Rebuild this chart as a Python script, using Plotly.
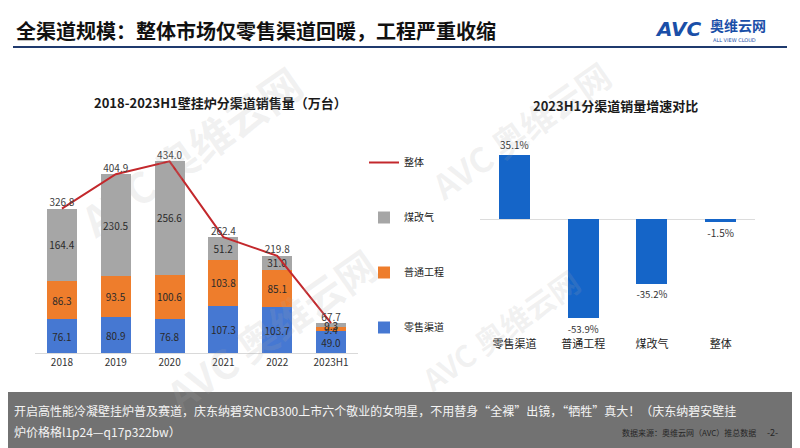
import plotly.graph_objects as go

# ---------------- data ----------------
years = ["2018", "2019", "2020", "2021", "2022", "2023H1"]
retail = [76.1, 80.9, 76.8, 107.3, 103.7, 49.0]       # 零售渠道
engineering = [86.3, 93.5, 100.6, 103.8, 85.1, 9.4]  # 普通工程
coal2gas = [164.4, 230.5, 256.6, 51.2, 31.0, 9.3]    # 煤改气
total = [326.8, 404.9, 434.0, 262.4, 219.8, 67.7]    # 整体

growth_cats = ["零售渠道", "普通工程", "煤改气", "整体"]
growth_vals = [35.1, -53.9, -35.2, -1.5]

FONT = "Noto Sans CJK SC"
W, H = 800, 448
OFF = 8  # page body margin offset

def px_x(p):
    return (p - OFF) / W

def px_y(p):
    return 1 - (p - OFF) / H

C_BLUE = "#4678d2"
C_ORANGE = "#ee7d2c"
C_GRAY = "#a6a6a6"
C_RED = "#c3282c"
C_BAR2 = "#1565c8"

fig = go.Figure()

seg_font = dict(family=FONT, size=10, color="#2a2a2a")
for name, vals, col, rank in [("零售渠道", retail, C_BLUE, 4),
                              ("普通工程", engineering, C_ORANGE, 3),
                              ("煤改气", coal2gas, C_GRAY, 2)]:
    fig.add_trace(go.Bar(
        x=years, y=vals, name=name, marker=dict(color=col, line=dict(width=0)),
        text=[f"{v:.1f}" for v in vals], textposition="inside",
        insidetextanchor="middle", textangle=0, constraintext="none",
        textfont=seg_font, xaxis="x", yaxis="y", legendgroup=name,
        legendrank=rank, hoverinfo="skip"))

fig.add_trace(go.Scatter(
    x=years, y=total, name="整体", mode="lines+text",
    line=dict(color=C_RED, width=2),
    text=[f"{v:.1f}" for v in total], textposition="top center",
    textfont=dict(family=FONT, size=10, color="#404040"),
    xaxis="x", yaxis="y", legendgroup="整体", legendrank=1, cliponaxis=False))

fig.add_trace(go.Bar(
    x=growth_cats, y=growth_vals, showlegend=False,
    marker=dict(color=C_BAR2, line=dict(width=0)),
    text=[f"{v:.1f}%" for v in growth_vals], textposition="outside",
    textfont=dict(family=FONT, size=10, color="#333333"),
    cliponaxis=False, xaxis="x2", yaxis="y2", offsetgroup="g2", width=0.45))

annotations = [
    dict(text="<b>全渠道规模：整体市场仅零售渠道回暖，工程严重收缩</b>",
         x=px_x(14), y=px_y(31), xanchor="left", yanchor="middle",
         font=dict(family=FONT, size=20, color="#111111")),
    dict(text="<b><i>AVC</i></b>", x=px_x(653), y=px_y(29), xanchor="left", yanchor="middle",
         font=dict(family="DejaVu Sans", size=20, color="#1a4fa8")),
    dict(text="<b>奥维云网</b>", x=px_x(708), y=px_y(25), xanchor="left", yanchor="middle",
         font=dict(family=FONT, size=14, color="#1a4fa8")),
    dict(text="ALL VIEW CLOUD", x=px_x(711), y=px_y(40), xanchor="left", yanchor="middle",
         font=dict(family="DejaVu Sans", size=5, color="#1a4fa8")),
    dict(text="<b>2018-2023H1壁挂炉分渠道销售量（万台）</b>",
         x=px_x(220), y=px_y(103), xanchor="center", yanchor="middle",
         font=dict(family=FONT, size=13, color="#1a1a1a")),
    dict(text="<b>2023H1分渠道销量增速对比</b>",
         x=px_x(615), y=px_y(105), xanchor="center", yanchor="middle",
         font=dict(family=FONT, size=13, color="#1a1a1a")),
    dict(text="数据来源：奥维云网（AVC）推总数据",
         x=px_x(620), y=px_y(432), xanchor="left", yanchor="middle",
         font=dict(family=FONT, size=8, color="#262626")),
    dict(text="-2-", x=px_x(765), y=px_y(432), xanchor="left", yanchor="middle",
         font=dict(family=FONT, size=9, color="#262626")),
    dict(text="开启高性能冷凝壁挂炉普及赛道，庆东纳碧安NCB300上市六个敬业的女明星，不用替身“全裸”出镜，“牺牲”真大！（庆东纳碧安壁挂",
         x=px_x(12), y=px_y(410), xanchor="left", yanchor="middle",
         font=dict(family=FONT, size=12, color="#f4f4f4")),
    dict(text="炉价格格l1p24—q17p322bw）",
         x=px_x(12), y=px_y(431), xanchor="left", yanchor="middle",
         font=dict(family=FONT, size=12, color="#f4f4f4")),
]

# faint watermarks
for (wx, wy, ws) in [(190, 150, 42), (270, 330, 40), (520, 130, 34), (500, 330, 30)]:
    annotations.append(dict(text="<b>AVC 奥维云网</b>", x=px_x(wx), y=px_y(wy),
                            xanchor="center", yanchor="middle", textangle=-35,
                            showarrow=False,
                            font=dict(family=FONT, size=ws, color="rgba(170,170,170,0.16)")))

for a in annotations:
    a.setdefault("showarrow", False)
    a["xref"] = "paper"
    a["yref"] = "paper"

shapes = [
    dict(type="line", xref="paper", yref="paper", x0=px_x(13), x1=px_x(787),
         y0=px_y(47), y1=px_y(47), line=dict(color="#1f3a6e", width=2)),
    dict(type="rect", xref="paper", yref="paper", x0=0, x1=1, y0=0, y1=px_y(392),
         fillcolor="rgba(95,95,95,0.88)", line=dict(width=0), layer="above"),
]

fig.update_layout(
    width=W, height=H, margin=dict(l=0, r=0, t=0, b=0),
    paper_bgcolor="white", plot_bgcolor="white",
    barmode="stack", bargap=0.44,
    font=dict(family=FONT, size=10, color="#333333"),
    annotations=annotations, shapes=shapes,
    legend=dict(x=px_x(364), y=px_y(148), xanchor="left", yanchor="top",
                traceorder="grouped", tracegroupgap=36, itemwidth=30,
                font=dict(family=FONT, size=10, color="#222222"),
                bgcolor="rgba(0,0,0,0)"),
    xaxis=dict(domain=[px_x(35), px_x(358)], showgrid=False, showline=True,
               linecolor="#d9d9d9", linewidth=1, ticks="", zeroline=False,
               tickfont=dict(family=FONT, size=10, color="#333333")),
    yaxis=dict(domain=[px_y(353), px_y(141)], range=[0, 480], visible=False),
    xaxis2=dict(domain=[px_x(480), px_x(755)], anchor="y2", showgrid=False,
                showline=False, ticks="", zeroline=False, ticklabelstandoff=3,
                tickfont=dict(family=FONT, size=11, color="#222222")),
    yaxis2=dict(domain=[px_y(332.8), px_y(146.1)], range=[-62, 40], anchor="x2",
                showgrid=False, showticklabels=False, zeroline=True,
                zerolinecolor="#dcdcdc", zerolinewidth=1),
    showlegend=True,
)

fig.write_html("out.html")
